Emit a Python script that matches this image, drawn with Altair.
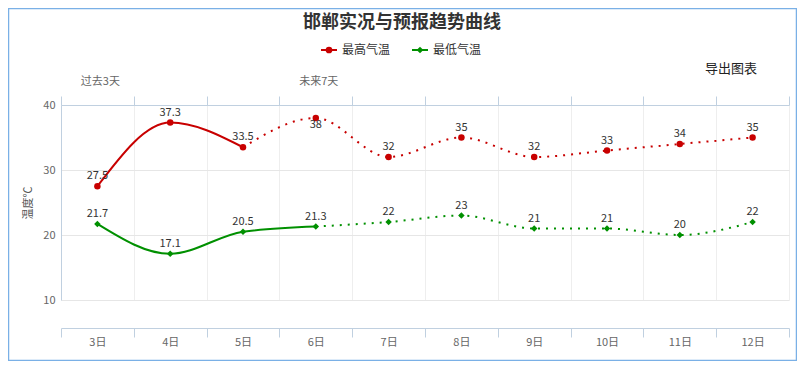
import altair as alt
import pandas as pd

# ---------------- data ----------------
days = ["3日", "4日", "5日", "6日", "7日", "8日", "9日", "10日", "11日", "12日"]
high = [27.5, 37.3, 33.5, 38, 32, 35, 32, 33, 34, 35]
low = [21.7, 17.1, 20.5, 21.3, 22, 23, 21, 21, 20, 22]
series_names = ["最高气温", "最低气温"]
observed_count = {"最高气温": 3, "最低气温": 4}   # solid (observed) points per series
period_days = ["3日", "6日"]
period_labels = ["过去3天", "未来7天"]
title_text = "邯郸实况与预报趋势曲线"
export_text = "导出图表"
y_title = "温度℃"
y_ticks = [10, 20, 30, 40]
colors = ["#c80000", "#009000"]

FONT = "Noto Sans CJK SC"
AXIS_BLUE = "#c0d0e0"

rows = []
for name, vals in zip(series_names, [high, low]):
    n = observed_count[name]
    for i, (d, v) in enumerate(zip(days, vals)):
        rows.append(dict(day=d, series=name, value=v, label=f"{v:g}",
                         solid=i < n, dotted=i >= n - 1, below=v > 37.5))
df = pd.DataFrame(rows)
periods = pd.DataFrame({"day": period_days, "text": period_labels})
legend_df = pd.DataFrame({"series": series_names})
one = pd.DataFrame({"k": [0]})

# ---------------- encodings ----------------
x_scale = alt.Scale(type="band", domain=days, paddingInner=0, paddingOuter=0)
color_scale = alt.Scale(domain=series_names, range=colors)
shape_scale = alt.Scale(domain=series_names, range=["circle", "diamond"])

def x_enc(axis=None):
    if axis is None:
        return alt.X("day:N", scale=x_scale, bandPosition=0.5, axis=None)
    return alt.X("day:N", scale=x_scale, bandPosition=0.5, axis=axis)

y_axis = alt.Axis(values=y_ticks, title=y_title, titleFont=FONT, titleFontSize=11,
                  titleFontWeight="normal", titleColor="#555555", titlePadding=9,
                  labelFont=FONT, labelFontSize=11, labelColor="#666666",
                  labelPadding=6, ticks=False, tickSize=0, domain=True,
                  domainColor=AXIS_BLUE, grid=True, gridColor="#e6e6e6")
y_enc = alt.Y("value:Q", scale=alt.Scale(domain=[10, 40], nice=False, zero=False), axis=y_axis)

bottom_axis = alt.Axis(orient="bottom", offset=28, title=None, labelAngle=0,
                       tickBand="extent", tickSize=9, tickColor=AXIS_BLUE,
                       domainColor=AXIS_BLUE, grid=True, gridColor="#eeeeee",
                       labelColor="#666666", labelFontSize=11, labelFont=FONT,
                       labelPadding=-1)
top_axis = alt.Axis(orient="top", title=None, labels=False, ticks=True,
                    tickBand="extent", tickSize=9, tickColor=AXIS_BLUE,
                    domainColor=AXIS_BLUE, grid=False)

base = alt.Chart(df)
col = alt.Color("series:N", scale=color_scale, legend=None)

solid = base.transform_filter("datum.solid").mark_line(
    interpolate="monotone", strokeWidth=2
).encode(x=x_enc(bottom_axis), y=y_enc, color=col, detail="series:N")

dotted = base.transform_filter("datum.dotted").mark_line(
    interpolate="monotone", strokeWidth=2, strokeDash=[2, 6]
).encode(x=x_enc(), y=y_enc, color=col, detail="series:N")

points = base.mark_point(filled=True, opacity=1, size=42).encode(
    x=x_enc(), y=y_enc, color=col,
    shape=alt.Shape("series:N", scale=shape_scale, legend=None),
)

labels_above = base.transform_filter("!datum.below").mark_text(
    dy=-10, fontSize=11, font=FONT, color="#333333"
).encode(x=x_enc(), y=y_enc, text="label:N")

labels_below = base.transform_filter("datum.below").mark_text(
    dy=7, fontSize=11, font=FONT, color="#333333"
).encode(x=x_enc(), y=y_enc, text="label:N")

period_layer = alt.Chart(periods).mark_text(
    dx=3, fontSize=11, font=FONT, color="#666666"
).encode(x=x_enc(top_axis), y=alt.value(-23), text="text:N")

# ---------------- manual legend (line + marker + label) ----------------
LEG_X0, LEG_STEP, LEG_Y = 260, 91, -55
leg = alt.Chart(legend_df).transform_window(
    idx="row_number()"
).transform_calculate(
    lx=f"{LEG_X0} + (datum.idx - 1) * {LEG_STEP}",
    lx2=f"{LEG_X0} + (datum.idx - 1) * {LEG_STEP} + 16",
    lxm=f"{LEG_X0} + (datum.idx - 1) * {LEG_STEP} + 8",
    lxt=f"{LEG_X0} + (datum.idx - 1) * {LEG_STEP} + 21",
)
leg_line = leg.mark_rule(strokeWidth=2).encode(
    x=alt.X("lx:Q", scale=None, axis=None), x2="lx2:Q", y=alt.value(LEG_Y), color=col)
leg_mark = leg.mark_point(filled=True, opacity=1, size=45).encode(
    x=alt.X("lxm:Q", scale=None, axis=None), y=alt.value(LEG_Y), color=col,
    shape=alt.Shape("series:N", scale=shape_scale, legend=None))
leg_text = leg.mark_text(align="left", baseline="middle", fontSize=12, font=FONT, color="#333333").encode(
    x=alt.X("lxt:Q", scale=None, axis=None), y=alt.value(LEG_Y), text="series:N")

# ---------------- decorations ----------------
title = alt.Chart(one).mark_text(
    fontSize=18, fontWeight="bold", font=FONT, color="#333333", align="center", baseline="middle"
).encode(x=alt.value(341), y=alt.value(-82), text=alt.value(title_text))

export = alt.Chart(one).mark_text(
    fontSize=13, font=FONT, color="#222222", align="center", baseline="middle"
).encode(x=alt.value(670), y=alt.value(-36), text=alt.value(export_text))

border = alt.Chart(one).mark_rect(
    fillOpacity=0, stroke="#7ab0e6", strokeWidth=1.5
).encode(x=alt.value(-52.5), x2=alt.value(735.5), y=alt.value(-96.5), y2=alt.value(255.5))

chart = alt.layer(
    border, solid, dotted, points, labels_above, labels_below, period_layer,
    leg_line, leg_mark, leg_text, title, export
).resolve_axis(x="independent").properties(
    width=728, height=195,
    padding={"left": 53, "top": 97, "right": 8, "bottom": 61},
    autosize=alt.AutoSizeParams(type="none"),
    background="white",
).configure_view(stroke="transparent")

chart.save("out.html", embed_options={"renderer": "svg", "actions": False})
